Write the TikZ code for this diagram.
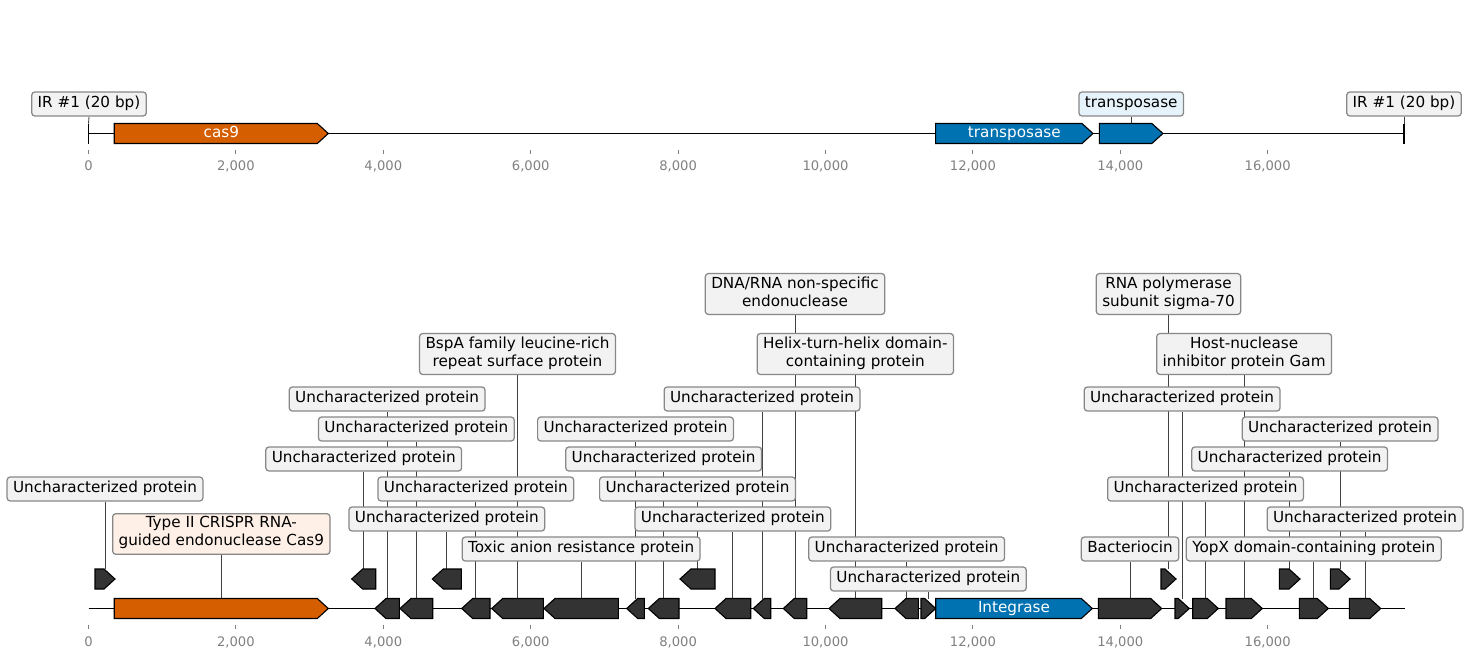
\documentclass[tikz,border=0pt]{standalone}
\usepackage{fontspec}
\setmainfont{DejaVu Sans}
\usetikzlibrary{backgrounds}

\definecolor{casorange}{HTML}{D55E00}
\definecolor{tnpblue}{HTML}{0072B2}
\definecolor{gdark}{HTML}{333333}
\definecolor{lblgray}{HTML}{F2F2F2}
\definecolor{lblorange}{HTML}{FEF0E6}
\definecolor{lblblue}{HTML}{E6F3FA}
\definecolor{lbledge}{HTML}{878787}
\definecolor{tickgray}{HTML}{808080}

% gene arrow: name, start, end, y, strand, fill
\newcommand{\gene}[6]{%
  \pgfmathsetmacro{\ghd}{min(11,#3-#2)}%
  \ifnum#5>0
    \draw[genebox,fill=#6] (#2,#4-10) -- ({#3-\ghd},#4-10) -- (#3,#4) -- ({#3-\ghd},#4+10) -- (#2,#4+10) -- cycle;
  \else
    \draw[genebox,fill=#6] (#3,#4-10) -- ({#2+\ghd},#4-10) -- (#2,#4) -- ({#2+\ghd},#4+10) -- (#3,#4+10) -- cycle;
  \fi
  \coordinate (#1) at ({(#2+#3)/2},#4-10);
}

\begin{document}
\begin{tikzpicture}[x=0.254mm,y=-0.254mm]

\tikzstyle{genebox}=[draw=black,line width=0.8pt,line join=miter]
\tikzstyle{base}=[black,line width=1.4pt]
\tikzstyle{endbar}=[black,line width=0.9pt]
\tikzstyle{tck}=[tickgray,line width=0.6pt]
\tikzstyle{tlab}=[text=tickgray,font=\fontsize{9.5}{11}\selectfont,inner sep=0pt]
\tikzstyle{glab}=[text=white,font=\fontsize{11}{13}\selectfont,text height=8pt,text depth=2.4pt,inner sep=0pt]
\tikzstyle{lbl}=[draw=lbledge,fill=lblgray,line width=0.9pt,rounded corners=2.2pt,
  font=\fontsize{11}{13}\selectfont,align=center,inner xsep=4.3pt,inner ysep=2.15pt,
  execute at begin node=\strut,execute at end node=\strut]
\tikzstyle{conn}=[black!75,line width=0.6pt]

\useasboundingbox (0,0) rectangle (1470,659);

% top track
\coordinate (tl) at (88.5,133.5);
\coordinate (tr) at (1404,133.5);
\draw[base] (tl) -- (tr);
\draw[endbar] (tl) ++(0,-10) coordinate (tlt) -- ++(0,20);
\draw[endbar] (tr) ++(0,-10) coordinate (trt) -- ++(0,20);

\gene{tcas}{114.3}{328.3}{133.5}{1}{casorange}
\gene{ttnpA}{935.6}{1093}{133.5}{1}{tnpblue}
\gene{ttnpB}{1099.4}{1162.9}{133.5}{1}{tnpblue}

\node[glab] (ncas) at (221.3,133.5) {cas9};
\node[glab] (ntnp) at (1014.3,133.5) {transposase};

\node[lbl] (irl) at (89,104) {IR \#1 (20 bp)};
\node[lbl] (irr) at (1404,104) {IR \#1 (20 bp)};
\node[lbl,fill=lblblue] (ltnp) at (1131.2,104) {transposase};

% bottom track
\coordinate (bl) at (88.5,608.5);
\coordinate (br) at (1405,608.5);
\draw[base] (bl) -- (br);

\gene{ua}{95}{115}{579}{1}{gdark}
\gene{ub}{351.7}{375.7}{579}{-1}{gdark}
\gene{uc}{432.3}{461.3}{579}{-1}{gdark}
\gene{ud}{680}{715}{579}{-1}{gdark}
\gene{ue}{1161}{1176}{579}{1}{gdark}
\gene{uf}{1279.3}{1300}{579}{1}{gdark}
\gene{ug}{1330.3}{1350}{579}{1}{gdark}

\gene{g01}{114.3}{328.3}{608.5}{1}{casorange}
\gene{g02}{375}{399.3}{608.5}{-1}{gdark}
\gene{g03}{400}{432.7}{608.5}{-1}{gdark}
\gene{g04}{461.7}{490}{608.5}{-1}{gdark}
\gene{g05}{491.7}{543.3}{608.5}{-1}{gdark}
\gene{g06}{544}{618.3}{608.5}{-1}{gdark}
\gene{g07}{626.7}{644.3}{608.5}{-1}{gdark}
\gene{g08}{648.3}{679}{608.5}{-1}{gdark}
\gene{g09}{715}{750.7}{608.5}{-1}{gdark}
\gene{g10}{753.3}{770.7}{608.5}{-1}{gdark}
\gene{g11}{783.3}{806.7}{608.5}{-1}{gdark}
\gene{g12}{829}{881.7}{608.5}{-1}{gdark}
\gene{g13}{895}{918.3}{608.5}{-1}{gdark}
\gene{g14}{921}{935.7}{608.5}{1}{gdark}
\gene{g15}{935.7}{1092.3}{608.5}{1}{tnpblue}
\gene{g16}{1098.3}{1161.7}{608.5}{1}{gdark}
\gene{g17}{1175}{1189.3}{608.5}{1}{gdark}
\gene{g18}{1192.7}{1218.3}{608.5}{1}{gdark}
\gene{g19}{1226}{1262.3}{608.5}{1}{gdark}
\gene{g20}{1299.3}{1328.3}{608.5}{1}{gdark}
\gene{g21}{1349.3}{1380.7}{608.5}{1}{gdark}

\node[glab] (nint) at (1014,608.5) {Integrase};

\node[lbl] (l01) at (105,489) {Uncharacterized protein};
\node[lbl,fill=lblorange] (l02) at (221.3,534) {Type II CRISPR RNA-\\guided endonuclease Cas9};
\node[lbl] (l03) at (387.15,399) {Uncharacterized protein};
\node[lbl] (l04) at (416.35,429) {Uncharacterized protein};
\node[lbl] (l05) at (363.7,459) {Uncharacterized protein};
\node[lbl] (l06) at (475.85,489) {Uncharacterized protein};
\node[lbl] (l07) at (446.8,519) {Uncharacterized protein};
\node[lbl] (l08) at (581.15,549) {Toxic anion resistance protein};
\node[lbl] (l09) at (517.5,354) {BspA family leucine-rich\\repeat surface protein};
\node[lbl] (l10) at (635.5,429) {Uncharacterized protein};
\node[lbl] (l11) at (663.65,459) {Uncharacterized protein};
\node[lbl] (l12) at (697.5,489) {Uncharacterized protein};
\node[lbl] (l13) at (732.85,519) {Uncharacterized protein};
\node[lbl] (l14) at (762,399) {Uncharacterized protein};
\node[lbl] (l15) at (795,294) {DNA/RNA non-specific\\endonuclease};
\node[lbl] (l16) at (855.35,354) {Helix-turn-helix domain-\\containing protein};
\node[lbl] (l17) at (906.65,549) {Uncharacterized protein};
\node[lbl] (l18) at (928.35,579) {Uncharacterized protein};
\node[lbl] (l19) at (1130,549) {Bacteriocin};
\node[lbl] (l20) at (1182.15,399) {Uncharacterized protein};
\node[lbl] (l21) at (1168.5,294) {RNA polymerase\\subunit sigma-70};
\node[lbl] (l22) at (1244.15,354) {Host-nuclease\\inhibitor protein Gam};
\node[lbl] (l23) at (1340.15,429) {Uncharacterized protein};
\node[lbl] (l24) at (1289.65,459) {Uncharacterized protein};
\node[lbl] (l25) at (1205.5,489) {Uncharacterized protein};
\node[lbl] (l26) at (1365,519) {Uncharacterized protein};
\node[lbl] (l27) at (1313.8,549) {YopX domain-containing protein};

% axes
\foreach \k/\lab in {0/0,1/{2,000},2/{4,000},3/{6,000},4/{8,000},5/{10,000},6/{12,000},7/{14,000},8/{16,000}}{
  \draw[tck] (88.5+147.4*\k,149.5) -- ++(0,4);
  \node[tlab] (tt\k) at (88.5+147.4*\k,166) {\lab};
  \draw[tck] (88.5+147.4*\k,625) -- ++(0,4);
  \node[tlab] (bt\k) at (88.5+147.4*\k,642) {\lab};
}

\begin{pgfonlayer}{background}
\draw[conn] (irl.south) -- (tlt);
\draw[conn] (irr.south) -- (trt);
\draw[conn] (ttnpB) -- (ttnpB |- ltnp.south);
\foreach \g/\l in {ua/l01,g01/l02,g02/l03,g03/l04,ub/l05,g04/l06,uc/l07,g06/l08,g05/l09,
  g07/l10,g08/l11,ud/l12,g09/l13,g10/l14,g11/l15,g12/l16,g13/l17,g14/l18,g16/l19,
  g17/l20,ue/l21,g19/l22,ug/l23,uf/l24,g18/l25,g21/l26,g20/l27}
  \draw[conn] (\g) -- (\g |- \l.south);
\end{pgfonlayer}

\end{tikzpicture}
\end{document}
